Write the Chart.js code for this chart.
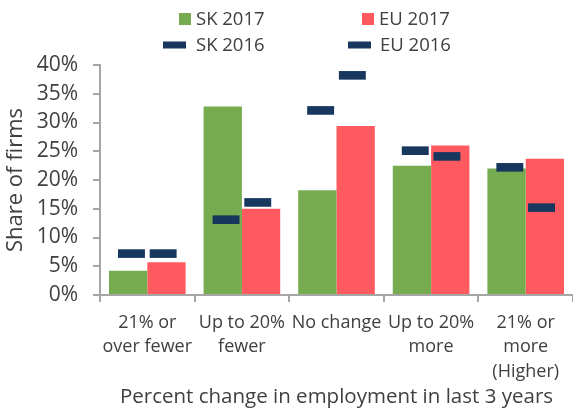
<!DOCTYPE html>
<html>
<head>
<meta charset="utf-8">
<script src="https://cdn.jsdelivr.net/npm/chart.js@4/dist/chart.umd.min.js"></script>
<style>
  html, body { margin: 0; padding: 0; background: #fff; }
  #wrap { width: 573px; height: 411px; position: relative; }
</style>
</head>
<body>
<div id="wrap"><canvas id="chart"></canvas></div>
<script>
const categories = [
  ['21% or', 'over fewer'],
  ['Up to 20%', 'fewer'],
  ['No change'],
  ['Up to 20%', 'more'],
  ['21% or', 'more', '(Higher)']
];
const sk2017 = [4.2, 32.8, 18.2, 22.5, 22.0];
const eu2017 = [5.7, 15.0, 29.4, 26.0, 23.7];
const sk2016 = [7.2, 13.1, 32.1, 25.1, 22.2];
const eu2016 = [7.2, 16.1, 38.2, 24.1, 15.2];

const GREEN = '#77AB50';
const RED = '#FF5A5F';
const NAVY = '#17375E';
const TEXT = '#404040';
const AXIS = '#A6A6A6';
const FONT = '"Open Sans", "Noto Sans", sans-serif';

// the 2016 values are drawn as short dashes: floating bars of fixed thickness
const DASH = 0.75;
const toDash = (values) => values.map(v => [v - DASH, v + DASH]);

// legend is laid out as a 2x2 table, like the original
const legendSlots = [
  { x: 196, y: 19, w: 12, h: 12, gap: 5 },
  { x: 379, y: 19, w: 12, h: 12, gap: 5 },
  { x: 196, y: 45, w: 23, h: 7, gap: 10 },
  { x: 380, y: 45, w: 23, h: 7, gap: 9 }
];

const tableLegend = {
  id: 'tableLegend',
  afterDraw(chart) {
    const ctx = chart.ctx;
    ctx.save();
    ctx.font = '18.5px ' + FONT;
    ctx.textBaseline = 'middle';
    ctx.textAlign = 'left';
    chart.data.datasets.forEach((ds, i) => {
      const slot = legendSlots[i];
      ctx.fillStyle = ds.backgroundColor;
      ctx.fillRect(slot.x - slot.gap - slot.w, slot.y - slot.h / 2, slot.w, slot.h);
      ctx.fillStyle = TEXT;
      ctx.fillText(ds.label, slot.x, slot.y + 1);
    });
    ctx.restore();
  }
};

new Chart(document.getElementById('chart'), {
  type: 'bar',
  data: {
    labels: categories,
    datasets: [
      {
        label: 'SK 2017',
        data: sk2017,
        backgroundColor: GREEN,
        stack: 'SK',
        categoryPercentage: 0.81,
        barPercentage: 1.0,
        order: 2
      },
      {
        label: 'EU 2017',
        data: eu2017,
        backgroundColor: RED,
        stack: 'EU',
        categoryPercentage: 0.81,
        barPercentage: 1.0,
        order: 2
      },
      {
        label: 'SK 2016',
        data: toDash(sk2016),
        backgroundColor: NAVY,
        stack: 'SK',
        categoryPercentage: 0.67,
        barPercentage: 0.85,
        order: 1
      },
      {
        label: 'EU 2016',
        data: toDash(eu2016),
        backgroundColor: NAVY,
        stack: 'EU',
        categoryPercentage: 0.67,
        barPercentage: 0.85,
        order: 1
      }
    ]
  },
  options: {
    responsive: true,
    maintainAspectRatio: false,
    animation: false,
    layout: {
      padding: { top: 65, right: 0, bottom: 0, left: 0 }
    },
    plugins: {
      legend: { display: false },
      tooltip: { enabled: false }
    },
    scales: {
      x: {
        type: 'category',
        stacked: true,
        border: { color: AXIS, width: 2 },
        grid: {
          offset: true,
          drawOnChartArea: false,
          color: AXIS,
          lineWidth: 2,
          tickLength: 7
        },
        ticks: {
          color: TEXT,
          font: { family: FONT, size: 18, lineHeight: 1.38 },
          padding: 8,
          maxRotation: 0,
          autoSkip: false
        },
        title: {
          display: true,
          text: 'Percent change in employment in last 3 years',
          color: TEXT,
          font: { family: FONT, size: 20.5 },
          padding: { top: 0, bottom: 2 }
        },
        afterFit: (scale) => { scale.height = 116; }
      },
      y: {
        min: 0,
        max: 40,
        stacked: false,
        border: { color: AXIS, width: 2 },
        grid: {
          drawOnChartArea: false,
          color: AXIS,
          lineWidth: 2,
          tickLength: 7
        },
        ticks: {
          stepSize: 5,
          color: TEXT,
          font: { family: FONT, size: 21 },
          padding: 15,
          callback: (v) => v + '%'
        },
        title: {
          display: true,
          text: 'Share of firms',
          color: TEXT,
          font: { family: FONT, size: 22 },
          padding: { top: 3, bottom: 0 }
        },
        afterFit: (scale) => { scale.width = 100; }
      }
    }
  },
  plugins: [tableLegend]
});
</script>
</body>
</html>
